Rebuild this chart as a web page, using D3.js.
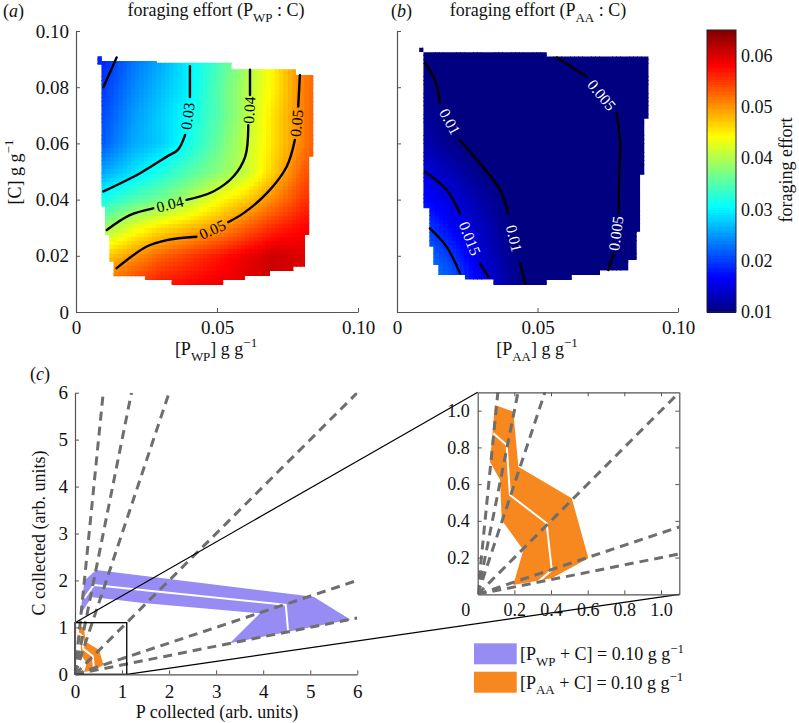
<!DOCTYPE html>
<html>
<head>
<meta charset="utf-8">
<script src="https://cdn.jsdelivr.net/npm/d3@7"></script>
<style>
  body { margin:0; background:#fff; }
  svg text { font-family: "Liberation Serif", "Times New Roman", "DejaVu Serif", serif; fill:#111; }
</style>
</head>
<body>
<svg id="fig" width="799" height="723"></svg>
<script>
// ================= DATA =================
const gridX = [0, 0.01, 0.02, 0.03, 0.04, 0.05, 0.06, 0.07, 0.08, 0.09];
const gridY = [0, 0.01, 0.02, 0.03, 0.04, 0.05, 0.06, 0.07, 0.08, 0.09, 0.10];

// foraging effort, rows = [C] (gridY ascending), cols = [P] (gridX)
const effortWP = [
  [0.049,0.052,0.055,0.057,0.058,0.059,0.060,0.061,0.060,0.059],
  [0.049,0.052,0.055,0.057,0.058,0.059,0.060,0.061,0.060,0.059],
  [0.044,0.047,0.050,0.053,0.055,0.057,0.059,0.061,0.060,0.059],
  [0.037,0.039,0.043,0.046,0.048,0.050,0.053,0.056,0.058,0.059],
  [0.029,0.032,0.035,0.037,0.040,0.044,0.047,0.051,0.055,0.057],
  [0.023,0.026,0.029,0.032,0.035,0.038,0.041,0.047,0.053,0.056],
  [0.019,0.022,0.026,0.028,0.0315,0.036,0.041,0.046,0.051,0.056],
  [0.018,0.021,0.025,0.028,0.031,0.035,0.040,0.046,0.051,0.056],
  [0.017,0.020,0.024,0.027,0.030,0.035,0.040,0.045,0.051,0.055],
  [0.017,0.019,0.023,0.026,0.030,0.034,0.039,0.045,0.051,0.055],
  [0.017,0.019,0.023,0.026,0.030,0.034,0.039,0.045,0.051,0.055]
];
const effortAA = [
  [0.030,0.027,0.023,0.017,0.0122,0.0092,0.0075,0.0062,0.0047,0.0042],
  [0.028,0.025,0.022,0.016,0.0118,0.0090,0.0074,0.0062,0.0047,0.0042],
  [0.026,0.023,0.0195,0.0145,0.0110,0.0088,0.0073,0.0062,0.0048,0.0043],
  [0.023,0.0205,0.0165,0.0135,0.0103,0.0085,0.0072,0.0062,0.0049,0.0044],
  [0.0195,0.017,0.0148,0.0122,0.0097,0.0082,0.0071,0.0061,0.0049,0.0044],
  [0.017,0.015,0.0127,0.0103,0.0088,0.0077,0.0068,0.0060,0.0049,0.0044],
  [0.0145,0.0125,0.0105,0.0093,0.0083,0.0074,0.0066,0.0058,0.0049,0.0044],
  [0.013,0.0113,0.0098,0.0090,0.0081,0.0072,0.0064,0.0057,0.0049,0.0044],
  [0.012,0.0108,0.0095,0.0085,0.0077,0.0069,0.0061,0.0052,0.0046,0.0043],
  [0.011,0.0098,0.0090,0.0080,0.0072,0.0056,0.0049,0.0042,0.0038,0.0035],
  [0.011,0.0098,0.0090,0.0080,0.0072,0.0056,0.0049,0.0042,0.0038,0.0035]
];

// feasible region outlines ([P], [C])
const regionWP = [[0.0076,0.0910],[0.0091,0.0910],[0.0091,0.0893],[0.0286,0.0893],[0.0286,0.0887],[0.0552,0.0887],[0.0552,0.0864],[0.0780,0.0864],[0.0780,0.0843],[0.0841,0.0843],[0.0841,0.0553],[0.0827,0.0553],[0.0827,0.0274],[0.0812,0.0274],[0.0812,0.0161],[0.0771,0.0161],[0.0771,0.0146],[0.0688,0.0146],[0.0688,0.0128],[0.0599,0.0128],[0.0599,0.0114],[0.0522,0.0114],[0.0522,0.0096],[0.0339,0.0096],[0.0339,0.0114],[0.0245,0.0114],[0.0245,0.0127],[0.0133,0.0127],[0.0133,0.0180],[0.0118,0.0180],[0.0118,0.0274],[0.0103,0.0274],[0.0103,0.0375],[0.0091,0.0375],[0.0091,0.0880],[0.0076,0.0880]];
const regionAA = [[0.0079,0.0940],[0.0094,0.0940],[0.0094,0.0924],[0.0533,0.0924],[0.0533,0.0909],[0.0895,0.0909],[0.0895,0.0689],[0.0880,0.0689],[0.0880,0.0488],[0.0865,0.0488],[0.0865,0.0286],[0.0853,0.0286],[0.0853,0.0185],[0.0823,0.0185],[0.0823,0.0149],[0.0722,0.0149],[0.0722,0.0132],[0.0622,0.0132],[0.0622,0.0114],[0.0533,0.0114],[0.0533,0.0096],[0.0343,0.0096],[0.0343,0.0116],[0.0242,0.0116],[0.0242,0.0132],[0.0147,0.0132],[0.0147,0.0167],[0.0129,0.0167],[0.0129,0.0232],[0.0115,0.0232],[0.0115,0.0369],[0.0094,0.0369],[0.0094,0.0925],[0.0079,0.0925]];

// contour lines (segments separated by inline labels)
const contoursWP = [
  {level:0.02, segments:[[[0.0097,0.0800],[0.0144,0.0906]]], labelled:false},
  {level:0.03, segments:[
    [[0.0404,0.0875],[0.0404,0.0765]],
    [[0.0387,0.0630],[0.0362,0.0578],[0.0322,0.0553],[0.0227,0.0494],[0.0097,0.0429]]], labelled:true},
  {level:0.04, segments:[
    [[0.0617,0.0862],[0.0617,0.0772]],
    [[0.0611,0.0665],[0.0600,0.0553],[0.0558,0.0482],[0.0487,0.0429],[0.0392,0.0399]],
    [[0.0274,0.0369],[0.0191,0.0345],[0.0109,0.0292]]], labelled:true},
  {level:0.05, segments:[
    [[0.0794,0.0843],[0.0788,0.0731]],
    [[0.0776,0.0612],[0.0747,0.0517],[0.0676,0.0422],[0.0593,0.0351],[0.0540,0.0320]],
    [[0.0427,0.0268],[0.0322,0.0256],[0.0251,0.0233],[0.0144,0.0156]]], labelled:true}
];
const contoursAA = [
  {level:0.005, segments:[
    [[0.0568,0.0906],[0.0675,0.0837]],
    [[0.0782,0.0707],[0.0794,0.0604],[0.0791,0.0494],[0.0788,0.0351]],
    [[0.0770,0.0209],[0.0752,0.0149]]], labelled:true},
  {level:0.01, segments:[
    [[0.00996,0.0885],[0.0135,0.0826],[0.0153,0.0743]],
    [[0.0224,0.0612],[0.0295,0.0529],[0.0367,0.0434],[0.0396,0.0351]],
    [[0.0438,0.0173],[0.0456,0.0102]]], labelled:true},
  {level:0.015, segments:[
    [[0.00996,0.0499],[0.0177,0.0434],[0.0224,0.0351]],
    [[0.0295,0.0173],[0.0325,0.0126]]], labelled:true},
  {level:0.02, segments:[[[0.0117,0.0298],[0.0177,0.0232],[0.0224,0.0138]]], labelled:false}
];

const concTicksY = [0, 0.02, 0.04, 0.06, 0.08, 0.10];
const concTickLabelsY = ["0", "0.02", "0.04", "0.06", "0.08", "0.10"];
const concTicksX = [0, 0.05, 0.10];
const concTickLabelsX = ["0", "0.05", "0.10"];
const colorbarTicks = [0.01, 0.02, 0.03, 0.04, 0.05, 0.06];
const colorbarTickLabels = ["0.01", "0.02", "0.03", "0.04", "0.05", "0.06"];
const collectedTicks = [0, 1, 2, 3, 4, 5, 6];
const collectedTickLabels = ["0", "1", "2", "3", "4", "5", "6"];
const insetTicks = [0.2, 0.4, 0.6, 0.8, 1.0];
const insetTickLabels = ["0.2", "0.4", "0.6", "0.8", "1.0"];

// C:P ratio rails (C collected / P collected)
const railRatios = [10, 5, 3, 1, 1/3, 1/5];

// collected nutrients (P, C), band edges and mean trajectory
const wpUpper = [[0.20,2.00],[0.45,2.22],[5.07,1.65],[5.85,1.17]];
const wpLower = [[0.11,1.26],[0.35,1.64],[0.58,1.62],[1.45,1.52],[3.93,1.30],[3.29,0.66]];
const wpMean  = [[0.20,1.62],[0.40,1.90],[4.48,1.48],[4.53,0.91]];
const aaUpper = [[0.094,1.031],[0.194,0.995],[0.222,0.695],[0.513,0.523],[0.604,0.196],[0.404,0.087]];
const aaLower = [[0.067,0.722],[0.122,0.623],[0.131,0.405],[0.249,0.241],[0.194,0.051]];
const aaMean  = [[0.085,0.877],[0.158,0.813],[0.176,0.541],[0.376,0.387],[0.404,0.132],[0.331,0.069]];

const zoomExtent = 1.1;

// ================= HELPERS =================
const svg = d3.select("#fig");
const defs = svg.append("defs");
const AX = "#555";
const PURPLE = "#978cf4", ORANGE = "#f7871f", RAIL = "#6e6e6e";

const cl = v => Math.max(0, Math.min(1, v));
function jet(t) {
  t = cl(t);
  const r = cl(1.5 - Math.abs(4*t - 3)), g = cl(1.5 - Math.abs(4*t - 2)), b = cl(1.5 - Math.abs(4*t - 1));
  return d3.rgb(r*255, g*255, b*255).toString();
}
const effortToT = d3.scaleLinear().domain([0.01, 0.065]).range([0, 1]).clamp(true);

function bilinear(grid, x, y) {
  const dx = gridX[1] - gridX[0], dy = gridY[1] - gridY[0];
  const i = Math.max(0, Math.min(gridX.length - 2, Math.floor((x - gridX[0]) / dx)));
  const j = Math.max(0, Math.min(gridY.length - 2, Math.floor((y - gridY[0]) / dy)));
  const tx = cl((x - gridX[i]) / dx), ty = cl((y - gridY[j]) / dy);
  const a = grid[j][i]*(1-tx) + grid[j][i+1]*tx;
  const b = grid[j+1][i]*(1-tx) + grid[j+1][i+1]*tx;
  return a*(1-ty) + b*ty;
}

// rich text: parts [{t, sub, sup, it}]
function rich(g, x, y, parts, size, anchor, transform) {
  const t = g.append("text").attr("font-size", size).attr("text-anchor", anchor || "start");
  if (transform) t.attr("transform", transform); else t.attr("x", x).attr("y", y);
  let cur = 0;
  parts.forEach(p => {
    const want = p.sub ? size*0.32 : (p.sup ? -size*0.42 : 0);
    const ts = t.append("tspan").text(p.t).attr("dy", want - cur);
    if (p.sub || p.sup) ts.attr("font-size", size*0.72);
    if (p.it) ts.attr("font-style", "italic");
    cur = want;
  });
  return t;
}

function styleAxis(g, size) {
  g.attr("font-family", null).attr("font-size", null);
  g.selectAll("path.domain").attr("stroke", AX).attr("stroke-width", 1.2);
  g.selectAll(".tick line").attr("stroke", AX).attr("stroke-width", 1);
  g.selectAll(".tick text").attr("fill", "#111").attr("font-size", size);
}

// ================= PANELS (a) and (b) =================
const yConc = d3.scaleLinear().domain([0, 0.10]).range([312, 31]);
const xA = d3.scaleLinear().domain([0, 0.10]).range([76, 358]);
const xB = d3.scaleLinear().domain([0, 0.10]).range([397, 678]);

function drawHeatPanel(xs, grid, region, contours, id, labelColor, showYLabels) {
  const g = svg.append("g");
  const outline = d3.line().x(d => xs(d[0])).y(d => yConc(d[1]));
  defs.append("clipPath").attr("id", id).append("path").attr("d", outline(region) + "Z");
  const step = 0.0015, cells = [];
  for (let x = 0.0075; x < 0.0905; x += step)
    for (let y = 0.0090; y < 0.0950; y += step) cells.push([x, y]);
  g.append("g").attr("clip-path", `url(#${id})`).attr("shape-rendering", "crispEdges")
    .selectAll("rect").data(cells).join("rect")
    .attr("x", d => xs(d[0])).attr("y", d => yConc(d[1] + step))
    .attr("width", xs(step) - xs(0) + 0.7).attr("height", yConc(0) - yConc(step) + 0.7)
    .attr("fill", d => jet(effortToT(bilinear(grid, d[0] + step/2, d[1] + step/2))));

  const line = d3.line().x(d => xs(d[0])).y(d => yConc(d[1])).curve(d3.curveCatmullRom.alpha(0.5));
  contours.forEach(c => {
    c.segments.forEach(seg => {
      g.append("path").attr("d", line(seg)).attr("fill", "none")
        .attr("stroke", "#000").attr("stroke-width", 2.4).attr("stroke-linecap", "round");
    });
    if (c.labelled) {
      for (let k = 0; k < c.segments.length - 1; k++) {
        const p0 = c.segments[k][c.segments[k].length - 1], p1 = c.segments[k+1][0];
        const sx0 = xs(p0[0]), sy0 = yConc(p0[1]), sx1 = xs(p1[0]), sy1 = yConc(p1[1]);
        let ang = Math.atan2(sy1 - sy0, sx1 - sx0) * 180 / Math.PI;
        if (ang > 90) ang -= 180; if (ang <= -90) ang += 180;
        g.append("text").attr("transform", `translate(${(sx0+sx1)/2},${(sy0+sy1)/2}) rotate(${ang})`)
          .attr("text-anchor", "middle").attr("dy", "0.35em").attr("font-size", 15.5)
          .style("fill", labelColor).text(String(c.level));
      }
    }
  });

  const ay = g.append("g").attr("transform", `translate(${xs(0)},0)`)
    .call(d3.axisLeft(yConc).tickValues(concTicksY).tickSize(-4).tickSizeOuter(0).tickPadding(7)
      .tickFormat((d, i) => showYLabels ? concTickLabelsY[i] : ""));
  styleAxis(ay, 19);
  const ax = g.append("g").attr("transform", `translate(0,${yConc(0)})`)
    .call(d3.axisBottom(xs).tickValues(concTicksX).tickSize(-4).tickSizeOuter(0).tickPadding(9)
      .tickFormat((d, i) => concTickLabelsX[i]));
  styleAxis(ax, 19);
  return g;
}

drawHeatPanel(xA, effortWP, regionWP, contoursWP, "clipA", "#000", true);
drawHeatPanel(xB, effortAA, regionAA, contoursAA, "clipB", "#fff", false);

// titles & labels
rich(svg, 3, 17, [{t:"("}, {t:"a", it:true}, {t:")"}], 18, "start");
rich(svg, 391, 17, [{t:"("}, {t:"b", it:true}, {t:")"}], 18, "start");
rich(svg, 216, 16, [{t:"foraging effort (P"}, {t:"WP", sub:true}, {t:" : C)"}], 18, "middle");
rich(svg, 538, 16, [{t:"foraging effort (P"}, {t:"AA", sub:true}, {t:" : C)"}], 18, "middle");
rich(svg, 0, 0, [{t:"[C] g g"}, {t:"−1", sup:true}], 18, "middle", "translate(21,172) rotate(-90)");
rich(svg, 216, 355, [{t:"[P"}, {t:"WP", sub:true}, {t:"] g g"}, {t:"−1", sup:true}], 18, "middle");
rich(svg, 537, 355, [{t:"[P"}, {t:"AA", sub:true}, {t:"] g g"}, {t:"−1", sup:true}], 18, "middle");

// colorbar
const yBar = d3.scaleLinear().domain([0.01, 0.065]).range([312, 30]);
const barVals = d3.range(0.01, 0.065, 0.0005);
svg.append("g").attr("shape-rendering", "crispEdges").selectAll("rect").data(barVals).join("rect")
  .attr("x", 707).attr("width", 29)
  .attr("y", d => yBar(d + 0.0005)).attr("height", yBar(0.01) - yBar(0.0105) + 0.8)
  .attr("fill", d => jet(effortToT(d + 0.00025)));
svg.append("rect").attr("x", 707).attr("y", 30).attr("width", 29).attr("height", 282)
  .attr("fill", "none").attr("stroke", "#222").attr("stroke-width", 1);
svg.append("g").selectAll("text").data(colorbarTicks).join("text")
  .attr("x", 741).attr("y", d => yBar(d)).attr("dy", "0.35em").attr("font-size", 18)
  .text((d, i) => colorbarTickLabels[i]);
rich(svg, 0, 0, [{t:"foraging effort"}], 18, "middle", "translate(792,170) rotate(-90)");

// ================= PANEL (c) =================
const xC = d3.scaleLinear().domain([0, 6]).range([75, 357.3]);
const yC = d3.scaleLinear().domain([0, 6]).range([674.3, 392.7]);
const xI = d3.scaleLinear().domain([0, zoomExtent]).range([477.7, 679.3]);
const yI = d3.scaleLinear().domain([0, zoomExtent]).range([594.3, 392.3]);

defs.append("clipPath").attr("id", "clipC").append("rect")
  .attr("x", xC(0)).attr("y", yC(6)).attr("width", xC(6) - xC(0)).attr("height", yC(0) - yC(6));
defs.append("clipPath").attr("id", "clipI").append("rect")
  .attr("x", xI(0)).attr("y", yI(zoomExtent)).attr("width", xI(zoomExtent) - xI(0)).attr("height", yI(0) - yI(zoomExtent));

function drawCollected(xs, ys, clipId, maxV) {
  const g = svg.append("g").attr("clip-path", `url(#${clipId})`);
  const ln = d3.line().x(d => xs(d[0])).y(d => ys(d[1]));
  g.append("path").attr("d", ln(wpUpper.concat(wpLower.slice().reverse())) + "Z").attr("fill", PURPLE);
  g.append("path").attr("d", ln(aaUpper.concat(aaLower.slice().reverse())) + "Z").attr("fill", ORANGE);
  g.append("path").attr("d", ln(wpMean)).attr("fill", "none").attr("stroke", "#fff").attr("stroke-width", 2);
  g.append("path").attr("d", ln(aaMean)).attr("fill", "none").attr("stroke", "#fff").attr("stroke-width", 2);
  railRatios.forEach(r => {
    const xe = Math.min(maxV, maxV / r);
    g.append("path").attr("d", ln([[0, 0], [xe, xe * r]])).attr("fill", "none")
      .attr("stroke", RAIL).attr("stroke-width", 3).attr("stroke-dasharray", "9,6");
  });
  return g;
}
drawCollected(xC, yC, "clipC", 6);
drawCollected(xI, yI, "clipI", zoomExtent);

// zoom box & connectors
svg.append("rect").attr("x", xC(0)).attr("y", yC(zoomExtent))
  .attr("width", xC(zoomExtent) - xC(0)).attr("height", yC(0) - yC(zoomExtent))
  .attr("fill", "none").attr("stroke", "#000").attr("stroke-width", 1.3);
svg.append("line").attr("x1", xC(0)).attr("y1", yC(zoomExtent)).attr("x2", xI(0)).attr("y2", yI(zoomExtent))
  .attr("stroke", "#000").attr("stroke-width", 1.2);
svg.append("line").attr("x1", xC(zoomExtent)).attr("y1", yC(0)).attr("x2", xI(zoomExtent)).attr("y2", yI(0))
  .attr("stroke", "#000").attr("stroke-width", 1.2);

// main axes (c)
const cy = svg.append("g").attr("transform", `translate(${xC(0)},0)`)
  .call(d3.axisLeft(yC).tickValues(collectedTicks).tickSize(-4).tickSizeOuter(0).tickPadding(7)
    .tickFormat((d, i) => collectedTickLabels[i]));
styleAxis(cy, 19);
const cx = svg.append("g").attr("transform", `translate(0,${yC(0)})`)
  .call(d3.axisBottom(xC).tickValues(collectedTicks).tickSize(-4).tickSizeOuter(0).tickPadding(10)
    .tickFormat((d, i) => collectedTickLabels[i]));
styleAxis(cx, 19);

// inset axes
const ib = svg.append("g").attr("transform", `translate(0,${yI(0)})`)
  .call(d3.axisBottom(xI).tickValues(insetTicks).tickSize(-4).tickSizeOuter(0).tickPadding(9)
    .tickFormat((d, i) => insetTickLabels[i]));
styleAxis(ib, 18);
const il = svg.append("g").attr("transform", `translate(${xI(0)},0)`)
  .call(d3.axisLeft(yI).tickValues(insetTicks).tickSize(-4).tickSizeOuter(0).tickPadding(8)
    .tickFormat((d, i) => insetTickLabels[i]));
styleAxis(il, 18);
const it = svg.append("g").attr("transform", `translate(0,${yI(zoomExtent)})`)
  .call(d3.axisTop(xI).tickValues(insetTicks).tickSize(-4).tickSizeOuter(0).tickFormat(() => ""));
styleAxis(it, 18);
const ir = svg.append("g").attr("transform", `translate(${xI(zoomExtent)},0)`)
  .call(d3.axisRight(yI).tickValues(insetTicks).tickSize(-4).tickSizeOuter(0).tickFormat(() => ""));
styleAxis(ir, 18);
svg.append("text").attr("x", xI(0) - 12).attr("y", yI(0) + 22).attr("text-anchor", "middle")
  .attr("font-size", 18).text("0");

// labels (c)
rich(svg, 30, 380, [{t:"("}, {t:"c", it:true}, {t:")"}], 18, "start");
rich(svg, 0, 0, [{t:"C collected (arb. units)"}], 18, "middle", "translate(45,533) rotate(-90)");
rich(svg, 217, 718, [{t:"P collected (arb. units)"}], 18, "middle");

// legend
const legend = [
  {color: PURPLE, parts: [{t:"[P"}, {t:"WP", sub:true}, {t:" + C] = 0.10 g g"}, {t:"−1", sup:true}]},
  {color: ORANGE, parts: [{t:"[P"}, {t:"AA", sub:true}, {t:" + C] = 0.10 g g"}, {t:"−1", sup:true}]}
];
legend.forEach((L, i) => {
  const y0 = 643.3 + i * 28.4;
  svg.append("rect").attr("x", 474).attr("y", y0).attr("width", 42.7).attr("height", 21).attr("fill", L.color);
  rich(svg, 520, y0 + 17, L.parts, 18, "start");
});
</script>
</body>
</html>
